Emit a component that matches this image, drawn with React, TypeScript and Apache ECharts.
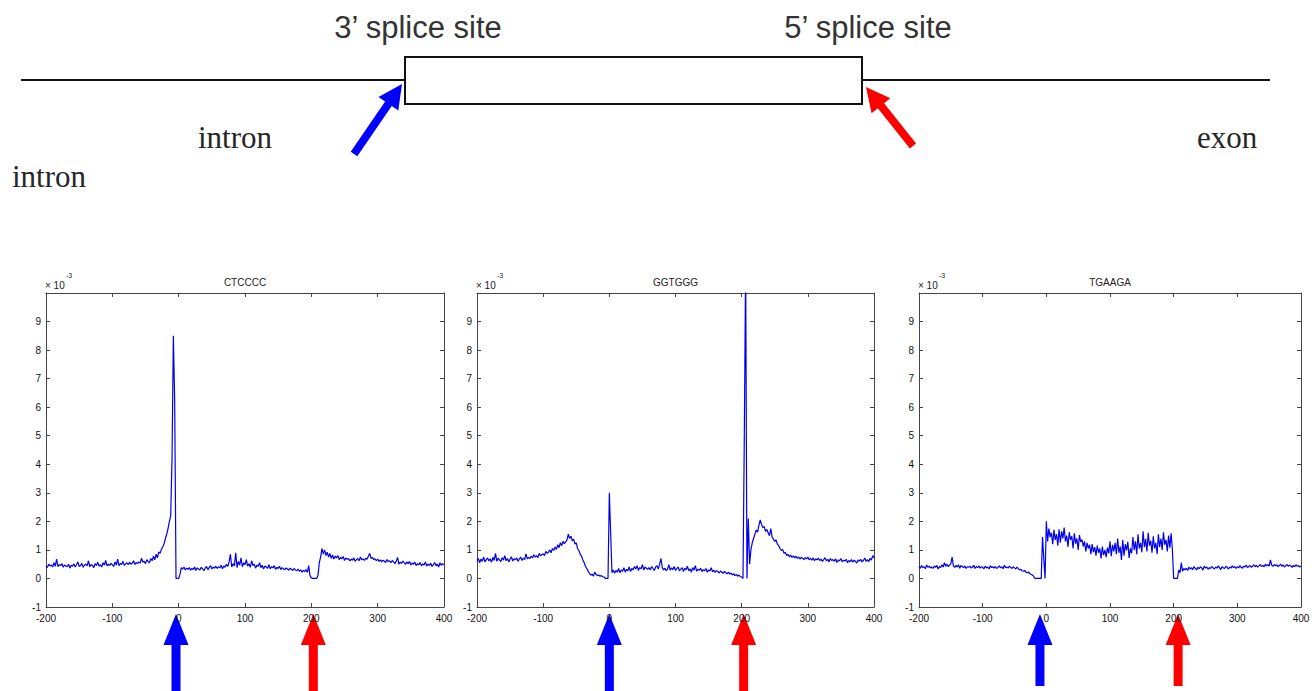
import React, { useEffect, useRef } from "react";
import * as echarts from "echarts";

// ---------- data (values in units of 10^-3), positions x = -200, -198, ..., 400 ----------
const titles = ["CTCCCC", "GGTGGG", "TGAAGA"];
const xMin = -200;
const xMax = 400;
const xStep = 2;

const ctcccc = [
  0.42,0.38,0.50,0.44,0.47,0.40,0.55,0.43,0.68,0.41,
  0.49,0.45,0.52,0.39,0.47,0.44,0.41,0.50,0.36,0.46,
  0.43,0.51,0.40,0.48,0.58,0.42,0.45,0.53,0.39,0.47,
  0.50,0.44,0.62,0.41,0.49,0.46,0.38,0.52,0.45,0.57,
  0.43,0.48,0.40,0.55,0.47,0.63,0.44,0.50,0.46,0.53,
  0.48,0.42,0.58,0.47,0.68,0.45,0.52,0.49,0.60,0.46,
  0.51,0.55,0.48,0.57,0.50,0.53,0.62,0.49,0.56,0.52,
  0.58,0.54,0.71,0.57,0.60,0.52,0.66,0.59,0.55,0.70,
  0.62,0.78,0.65,0.85,0.72,0.93,0.88,1.02,1.10,1.22,
  1.40,1.55,1.75,2.00,2.20,4.20,8.50,6.20,0.00,0.00,
  0.00,0.15,0.38,0.33,0.40,0.30,0.36,0.32,0.38,0.29,
  0.35,0.31,0.40,0.28,0.37,0.33,0.30,0.39,0.34,0.27,
  0.36,0.42,0.31,0.38,0.45,0.33,0.40,0.36,0.43,0.35,
  0.41,0.37,0.46,0.34,0.44,0.39,0.50,0.42,0.58,0.85,
  0.40,0.52,0.44,0.90,0.38,0.60,0.47,0.72,0.41,0.55,
  0.48,0.66,0.43,0.52,0.39,0.62,0.45,0.50,0.36,0.47,
  0.42,0.55,0.38,0.46,0.33,0.44,0.40,0.36,0.48,0.34,
  0.41,0.37,0.45,0.32,0.39,0.35,0.43,0.31,0.38,0.34,
  0.30,0.37,0.33,0.29,0.36,0.32,0.28,0.35,0.30,0.27,
  0.33,0.25,0.30,0.22,0.28,0.24,0.31,0.21,0.45,0.10,
  0.02,0.00,0.00,0.00,0.00,0.10,0.55,0.75,1.05,0.85,
  1.00,0.80,0.92,0.75,0.88,0.70,0.82,0.68,0.78,0.72,
  0.80,0.66,0.74,0.69,0.77,0.63,0.72,0.67,0.70,0.61,
  0.68,0.64,0.72,0.60,0.66,0.70,0.62,0.75,0.65,0.69,
  0.63,0.71,0.67,0.78,0.88,0.70,0.74,0.66,0.69,0.62,
  0.68,0.60,0.65,0.58,0.64,0.61,0.56,0.66,0.59,0.62,
  0.55,0.63,0.58,0.52,0.60,0.74,0.50,0.57,0.53,0.61,
  0.55,0.49,0.58,0.52,0.60,0.47,0.54,0.50,0.57,0.45,
  0.52,0.48,0.56,0.44,0.51,0.47,0.58,0.43,0.50,0.46,
  0.53,0.42,0.49,0.56,0.44,0.51,0.40,0.55,0.46,0.52,0.48,
];

const ggtggg = [
  0.62,0.70,0.55,0.68,0.60,0.75,0.58,0.66,0.72,0.61,
  0.69,0.57,0.74,0.63,0.88,0.60,0.71,0.65,0.59,0.73,
  0.64,0.80,0.62,0.70,0.58,0.67,0.76,0.61,0.69,0.65,
  0.72,0.60,0.68,0.75,0.63,0.71,0.66,0.86,0.69,0.74,
  0.70,0.78,0.72,0.83,0.75,0.80,0.73,0.88,0.79,0.84,
  0.86,0.80,0.95,0.88,0.92,1.00,0.90,1.05,0.98,1.10,
  1.02,1.18,1.08,1.25,1.15,1.30,1.22,1.28,1.35,1.55,
  1.40,1.48,1.32,1.38,1.20,1.25,1.05,0.98,0.85,0.78,
  0.65,0.55,0.42,0.35,0.25,0.18,0.12,0.15,0.08,0.22,
  0.14,0.10,0.12,0.08,0.10,0.06,0.05,0.00,0.00,0.00,
  3.00,1.60,0.20,0.30,0.18,0.28,0.22,0.35,0.20,0.30,
  0.25,0.38,0.22,0.32,0.27,0.40,0.24,0.35,0.30,0.42,
  0.33,0.45,0.28,0.38,0.34,0.48,0.30,0.40,0.36,0.32,
  0.38,0.30,0.42,0.35,0.28,0.40,0.45,0.33,0.50,0.70,
  0.38,0.30,0.36,0.27,0.33,0.48,0.29,0.37,0.31,0.42,
  0.28,0.35,0.40,0.26,0.33,0.38,0.24,0.36,0.30,0.43,
  0.27,0.34,0.22,0.38,0.29,0.45,0.25,0.33,0.28,0.36,
  0.24,0.31,0.27,0.35,0.22,0.30,0.26,0.38,0.23,0.29,
  0.21,0.28,0.24,0.19,0.26,0.22,0.18,0.25,0.20,0.16,
  0.22,0.15,0.19,0.12,0.17,0.10,0.14,0.08,0.12,0.06,
  0.05,0.00,5.00,11.0,0.00,2.10,0.50,1.00,1.25,1.40,
  1.55,1.70,1.62,1.85,2.05,1.90,1.78,1.82,1.65,1.72,
  1.60,1.50,1.75,1.45,1.38,1.30,1.35,1.20,1.15,1.05,
  0.98,1.02,0.88,0.92,0.80,0.85,0.76,0.82,0.74,0.79,
  0.72,0.78,0.70,0.76,0.68,0.74,0.71,0.66,0.73,0.69,
  0.75,0.66,0.70,0.64,0.72,0.62,0.69,0.65,0.71,0.63,
  0.68,0.60,0.66,0.73,0.62,0.67,0.58,0.70,0.63,0.66,
  0.60,0.69,0.56,0.65,0.62,0.70,0.58,0.64,0.61,0.67,
  0.55,0.63,0.59,0.66,0.57,0.64,0.60,0.54,0.65,0.61,
  0.67,0.58,0.63,0.72,0.60,0.66,0.59,0.70,0.64,0.80,0.72,
];

const tgaaga = [
  0.42,0.36,0.45,0.38,0.41,0.34,0.47,0.39,0.43,0.37,
  0.40,0.35,0.44,0.39,0.46,0.33,0.42,0.38,0.48,0.40,
  0.55,0.43,0.50,0.41,0.47,0.52,0.75,0.44,0.39,0.46,
  0.40,0.48,0.36,0.45,0.42,0.38,0.44,0.35,0.41,0.39,
  0.43,0.37,0.40,0.46,0.35,0.42,0.38,0.44,0.36,0.41,
  0.39,0.34,0.43,0.37,0.40,0.33,0.45,0.38,0.41,0.36,
  0.42,0.35,0.39,0.44,0.37,0.41,0.34,0.46,0.38,0.40,
  0.36,0.43,0.39,0.35,0.41,0.37,0.33,0.40,0.34,0.30,
  0.32,0.27,0.25,0.28,0.22,0.20,0.23,0.17,0.15,0.12,
  0.08,0.00,0.00,0.00,0.00,0.00,0.00,1.45,0.70,0.00,
  2.00,1.30,1.75,1.45,1.60,1.20,1.70,1.35,1.55,1.15,
  1.72,1.25,1.65,1.40,1.78,1.30,1.50,1.10,1.62,1.35,
  1.48,1.05,1.58,1.22,1.40,1.00,1.52,1.28,1.36,1.12,
  1.30,0.95,1.25,1.05,1.18,0.85,1.20,0.92,1.10,0.80,
  1.15,0.90,1.05,0.70,1.12,0.82,1.00,0.75,1.08,0.88,
  1.30,0.78,1.18,0.95,1.25,0.85,1.40,0.90,1.12,0.65,
  1.35,0.80,1.20,0.98,1.28,0.72,1.05,0.88,1.45,1.00,
  1.30,0.85,1.55,1.05,1.25,0.92,1.65,1.10,1.38,0.95,
  1.60,1.15,1.32,0.90,1.48,1.05,1.25,0.85,1.55,1.10,
  1.40,1.00,1.62,1.18,1.35,0.95,1.50,1.08,1.58,1.00,
  0.00,0.00,0.00,0.00,0.30,0.20,0.55,0.25,0.35,0.30,
  0.36,0.28,0.40,0.33,0.38,0.31,0.42,0.35,0.30,0.39,
  0.34,0.41,0.37,0.29,0.43,0.36,0.40,0.32,0.38,0.35,
  0.42,0.37,0.33,0.40,0.36,0.44,0.38,0.31,0.41,0.37,
  0.35,0.43,0.39,0.33,0.40,0.36,0.44,0.38,0.42,0.35,
  0.41,0.37,0.45,0.39,0.36,0.43,0.40,0.47,0.38,0.42,
  0.45,0.39,0.43,0.48,0.41,0.46,0.40,0.44,0.49,0.42,
  0.46,0.41,0.50,0.44,0.48,0.43,0.65,0.47,0.42,0.49,
  0.44,0.48,0.41,0.46,0.50,0.43,0.47,0.40,0.45,0.49,
  0.42,0.47,0.44,0.39,0.46,0.41,0.48,0.43,0.45,0.40,0.44,
];

const seriesValues = [ctcccc, ggtggg, tgaaga];
// x positions of the 3' (blue) and 5' (red) splice-site arrows under each plot
const threePrimeArrowX = [-4, 0, -10];
const fivePrimeArrowX = [203, 203, 207];

// ---------- layout ----------
const GRIDS = [
  { left: 46, width: 398 },
  { left: 477, width: 397 },
  { left: 919, width: 382 },
];
const GRID_TOP = 293;
const GRID_H = 314;

function arrowPolygon(
  tip: [number, number],
  tail: [number, number],
  headLen: number,
  headW: number,
  shaftW: number
) {
  const dx = tip[0] - tail[0];
  const dy = tip[1] - tail[1];
  const L = Math.hypot(dx, dy);
  const ux = dx / L, uy = dy / L;
  const px = -uy, py = ux;
  const bx = tip[0] - ux * headLen, by = tip[1] - uy * headLen;
  return [
    [tail[0] + (px * shaftW) / 2, tail[1] + (py * shaftW) / 2],
    [bx + (px * shaftW) / 2, by + (py * shaftW) / 2],
    [bx + (px * headW) / 2, by + (py * headW) / 2],
    [tip[0], tip[1]],
    [bx - (px * headW) / 2, by - (py * headW) / 2],
    [bx - (px * shaftW) / 2, by - (py * shaftW) / 2],
    [tail[0] - (px * shaftW) / 2, tail[1] - (py * shaftW) / 2],
  ];
}

function txt(text: string, x: number, y: number, size: number, family: string, color: string, align = "center") {
  return {
    type: "text",
    x,
    y,
    silent: true,
    style: {
      text,
      fontSize: size,
      fontFamily: family,
      fill: color,
      textAlign: align,
      textVerticalAlign: "middle",
      align,
      verticalAlign: "middle",
    },
  };
}

export default function App() {
  const ref = useRef<HTMLDivElement>(null);

  useEffect(() => {
    if (!ref.current) return;
    const chart = echarts.init(ref.current, null, { renderer: "svg" });

    const axisColor = "#444";
    const xAxes: any[] = [];
    const yAxes: any[] = [];
    const series: any[] = [];
    GRIDS.forEach((g, i) => {
      const common = {
        gridIndex: i,
        type: "value",
        splitLine: { show: false },
        axisLine: { show: true, onZero: false, lineStyle: { color: axisColor, width: 1 } },
        axisTick: { show: true, inside: true, length: 4, lineStyle: { color: axisColor } },
      };
      xAxes.push({
        ...common,
        position: "bottom",
        min: xMin,
        max: xMax,
        interval: 100,
        axisLabel: { fontSize: 10, color: "#111", margin: 6, fontFamily: "Liberation Sans" },
      });
      xAxes.push({ ...common, position: "top", min: xMin, max: xMax, interval: 100, axisLabel: { show: false } });
      yAxes.push({
        ...common,
        position: "left",
        min: -1,
        max: 10,
        interval: 1,
        axisLabel: {
          fontSize: 10,
          color: "#111",
          margin: 5,
          fontFamily: "Liberation Sans",
          formatter: (v: number) => (v === 10 ? "" : String(v)),
        },
      });
      yAxes.push({ ...common, position: "right", min: -1, max: 10, interval: 1, axisLabel: { show: false } });
      series.push({
        type: "line",
        xAxisIndex: 2 * i,
        yAxisIndex: 2 * i,
        showSymbol: false,
        symbol: "none",
        clip: true,
        lineStyle: { color: "#0000ee", width: 1.2 },
        data: seriesValues[i].map((v, k) => [xMin + k * xStep, v]),
      });
    });

    chart.setOption({
      animation: false,
      backgroundColor: "#ffffff",
      grid: GRIDS.map((g) => ({ left: g.left, top: GRID_TOP, width: g.width, height: GRID_H, containLabel: false })),
      xAxis: xAxes,
      yAxis: yAxes,
      series,
    });

    const graphics: any[] = [];
    // gene diagram
    graphics.push({ type: "line", shape: { x1: 21, y1: 80, x2: 405, y2: 80 }, style: { stroke: "#111", lineWidth: 2 } });
    graphics.push({ type: "line", shape: { x1: 862, y1: 80, x2: 1270, y2: 80 }, style: { stroke: "#111", lineWidth: 2 } });
    graphics.push({ type: "rect", shape: { x: 405, y: 57, width: 457, height: 47 }, style: { fill: "#fff", stroke: "#111", lineWidth: 2 } });
    graphics.push(txt("3’ splice site", 418, 27, 31, "Liberation Sans, Arial, sans-serif", "#333"));
    graphics.push(txt("5’ splice site", 868, 27, 31, "Liberation Sans, Arial, sans-serif", "#333"));
    graphics.push(txt("intron", 235, 137, 31, "Liberation Serif, Times New Roman, serif", "#262626"));
    graphics.push(txt("exon", 1227, 137, 31, "Liberation Serif, Times New Roman, serif", "#262626"));
    graphics.push(txt("intron", 49, 176, 31, "Liberation Serif, Times New Roman, serif", "#262626"));
    graphics.push({
      type: "polygon",
      shape: { points: arrowPolygon([402, 84], [354, 154], 24, 24, 8) },
      style: { fill: "#0000ff" },
    });
    graphics.push({
      type: "polygon",
      shape: { points: arrowPolygon([866, 87], [913, 146], 24, 24, 8) },
      style: { fill: "#ff0000" },
    });

    // plot titles and exponent labels
    GRIDS.forEach((g, i) => {
      graphics.push(txt(titles[i], g.left + g.width / 2, 282, 10, "Liberation Sans, Arial, sans-serif", "#222"));
      graphics.push(txt("× 10", g.left - 1, 285, 10, "Liberation Sans, Arial, sans-serif", "#222", "left"));
      graphics.push(txt("-3", g.left + 20, 275, 7, "Liberation Sans, Arial, sans-serif", "#222", "left"));
    });

    // splice-site arrows under the plots
    GRIDS.forEach((g, i) => {
      const bottom = i === 2 ? 686 : 700;
      const bx = chart.convertToPixel({ xAxisIndex: 2 * i }, threePrimeArrowX[i]) as number;
      const rx = chart.convertToPixel({ xAxisIndex: 2 * i }, fivePrimeArrowX[i]) as number;
      graphics.push({
        type: "polygon",
        shape: { points: arrowPolygon([bx, 614], [bx, bottom], 31, 25, 9) },
        style: { fill: "#0000ff" },
      });
      graphics.push({
        type: "polygon",
        shape: { points: arrowPolygon([rx, 614], [rx, bottom], 31, 25, 9) },
        style: { fill: "#ff0000" },
      });
    });

    chart.setOption({ graphic: graphics });

    return () => chart.dispose();
  }, []);

  return (
    <div
      ref={ref}
      style={{ position: "fixed", left: 0, top: 0, width: 1316, height: 691, background: "#fff" }}
    />
  );
}
